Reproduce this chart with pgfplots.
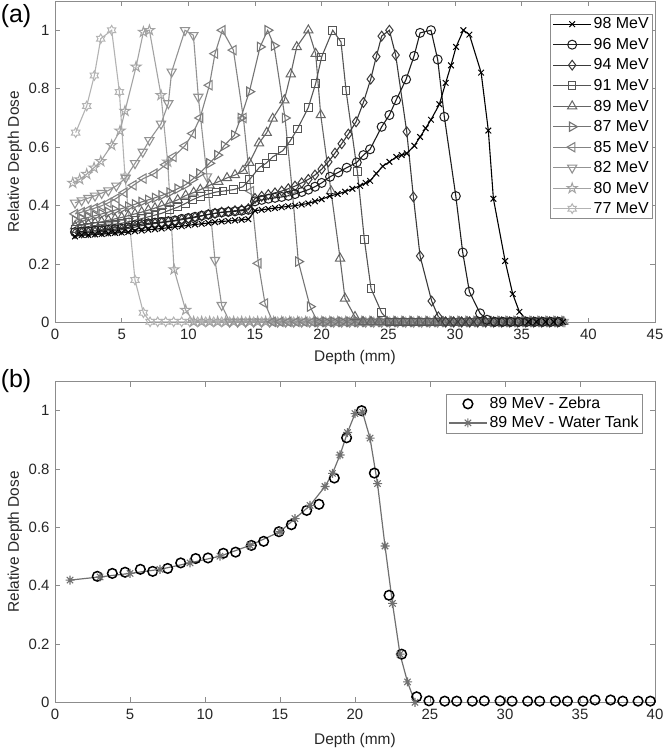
\documentclass[border=0pt]{standalone}
\usepackage{fontspec}
\setmainfont{Liberation Sans}
\usepackage{pgfplots}
\pgfplotsset{compat=1.18}
\usetikzlibrary{plotmarks}

\definecolor{c98}{HTML}{000000}
\definecolor{c96}{HTML}{1E1E1E}
\definecolor{c94}{HTML}{3A3A3A}
\definecolor{c91}{HTML}{555555}
\definecolor{c89}{HTML}{656565}
\definecolor{c87}{HTML}{747474}
\definecolor{c85}{HTML}{838383}
\definecolor{c82}{HTML}{939393}
\definecolor{c80}{HTML}{A3A3A3}
\definecolor{c77}{HTML}{B3B3B3}
\definecolor{axgray}{HTML}{8C8C8C}
\definecolor{tickcol}{HTML}{262626}
\definecolor{wt}{HTML}{707070}

\pgfdeclareplotmark{pentagram}{%
  \pgfmathsetlengthmacro\pmR{\pgfplotmarksize}%
  \pgfmathsetlengthmacro\pmr{0.382*\pgfplotmarksize}%
  \pgfpathmoveto{\pgfpointpolar{90}{\pmR}}%
  \pgfpathlineto{\pgfpointpolar{126}{\pmr}}%
  \pgfpathlineto{\pgfpointpolar{162}{\pmR}}%
  \pgfpathlineto{\pgfpointpolar{198}{\pmr}}%
  \pgfpathlineto{\pgfpointpolar{234}{\pmR}}%
  \pgfpathlineto{\pgfpointpolar{270}{\pmr}}%
  \pgfpathlineto{\pgfpointpolar{306}{\pmR}}%
  \pgfpathlineto{\pgfpointpolar{342}{\pmr}}%
  \pgfpathlineto{\pgfpointpolar{18}{\pmR}}%
  \pgfpathlineto{\pgfpointpolar{54}{\pmr}}%
  \pgfpathclose
  \pgfusepathqstroke}
\pgfdeclareplotmark{hexagram}{%
  \pgfmathsetlengthmacro\pmR{\pgfplotmarksize}%
  \pgfmathsetlengthmacro\pmr{0.577*\pgfplotmarksize}%
  \pgfpathmoveto{\pgfpointpolar{90}{\pmR}}%
  \pgfpathlineto{\pgfpointpolar{120}{\pmr}}%
  \pgfpathlineto{\pgfpointpolar{150}{\pmR}}%
  \pgfpathlineto{\pgfpointpolar{180}{\pmr}}%
  \pgfpathlineto{\pgfpointpolar{210}{\pmR}}%
  \pgfpathlineto{\pgfpointpolar{240}{\pmr}}%
  \pgfpathlineto{\pgfpointpolar{270}{\pmR}}%
  \pgfpathlineto{\pgfpointpolar{300}{\pmr}}%
  \pgfpathlineto{\pgfpointpolar{330}{\pmR}}%
  \pgfpathlineto{\pgfpointpolar{0}{\pmr}}%
  \pgfpathlineto{\pgfpointpolar{30}{\pmR}}%
  \pgfpathlineto{\pgfpointpolar{60}{\pmr}}%
  \pgfpathclose
  \pgfusepathqstroke}
\pgfdeclareplotmark{ast8}{%
  \pgfpathmoveto{\pgfqpoint{-\pgfplotmarksize}{0pt}}\pgfpathlineto{\pgfqpoint{\pgfplotmarksize}{0pt}}%
  \pgfpathmoveto{\pgfqpoint{0pt}{-\pgfplotmarksize}}\pgfpathlineto{\pgfqpoint{0pt}{\pgfplotmarksize}}%
  \pgfpathmoveto{\pgfpointpolar{45}{\pgfplotmarksize}}\pgfpathlineto{\pgfpointpolar{225}{\pgfplotmarksize}}%
  \pgfpathmoveto{\pgfpointpolar{135}{\pgfplotmarksize}}\pgfpathlineto{\pgfpointpolar{315}{\pgfplotmarksize}}%
  \pgfusepathqstroke}

\pgfplotsset{
  myaxis/.style={
    scale only axis, width=600bp, clip=false,
    ymin=0, ymax=1.1,
    ytick={0,0.2,0.4,0.6,0.8,1}, yticklabels={0,0.2,0.4,0.6,0.8,1},
    axis line style={axgray, line width=0.7bp},
    tick style={axgray, line width=0.7bp},
    major tick length=5bp, tick align=inside,
    tick label style={font=\fontsize{15}{17}\selectfont, text=tickcol},
    /pgf/number format/assume math mode=true,
    label style={font=\fontsize{15.5}{18}\selectfont, text=tickcol},
    xticklabel style={yshift=-3bp},
    yticklabel style={xshift=-2bp},
    xlabel={Depth (mm)}, ylabel={Relative Depth Dose},
    legend image code/.code={\draw[mark repeat=2,mark phase=2] plot coordinates {(0bp,0bp)(19bp,0bp)(38bp,0bp)};},
    legend style={draw=axgray, line width=0.7bp, font=\fontsize{16}{18}\selectfont, text=black, cells={anchor=west}, inner xsep=2bp, inner ysep=1.5bp, row sep=3.9bp},
  }
}

\begin{document}
\begin{tikzpicture}
\path[use as bounding box] (0,0) rectangle (664bp,-750bp);
\node[anchor=center, font=\fontsize{25}{28}\selectfont] at (16bp,-16bp) {(a)};
\node[anchor=center, font=\fontsize{25}{28}\selectfont] at (16bp,-381bp) {(b)};

\begin{axis}[myaxis, at={(55bp,-322.7bp)}, anchor=south west, height=321.7bp,
  xmin=0, xmax=45, xtick={0,5,...,45},
  xlabel style={at={(axis description cs:0.5,-0.108)}, anchor=center},
  ylabel style={at={(axis description cs:-0.0667,0.5)}, anchor=center},
  reverse legend,
  legend style={at={(axis description cs:1,1)}, anchor=north east, xshift=-2bp, yshift=-13bp},
  every axis plot/.append style={line width=1.1bp, mark options={solid, line width=1bp}},
]
% 77 MeV
\addplot[c77, mark=hexagram, mark size=4.8bp] coordinates {
(1.55,0.65)(2.38,0.741)(2.95,0.845)(3.43,0.971)(4.25,1.0)(4.83,0.789)(5.25,0.50)(6.0,0.146)(6.63,0.034)(7.13,0.003)
(7.7,0.003)(8.3,0.003)(8.9,0.003)(9.5,0.003)(10.1,0.003)(10.7,0.003)(11.3,0.003)(11.9,0.003)(12.5,0.003)(13.1,0.003)
(13.7,0.003)(14.3,0.003)(14.9,0.003)(15.5,0.003)(16.1,0.003)(16.7,0.003)(17.3,0.003)(17.9,0.003)(18.5,0.003)(19.1,0.003)
(19.7,0.003)(20.3,0.003)(20.9,0.003)(21.5,0.003)(22.1,0.003)(22.7,0.003)(23.3,0.003)(23.9,0.003)(24.5,0.003)(25.1,0.003)
(25.7,0.003)(26.3,0.003)(26.9,0.003)(27.5,0.003)(28.1,0.003)(28.7,0.003)(29.3,0.003)(29.9,0.003)(30.5,0.003)(31.1,0.003)
(31.7,0.003)(32.3,0.003)(32.9,0.003)(33.5,0.003)(34.1,0.003)(34.7,0.003)(35.3,0.003)(35.9,0.003)(36.5,0.003)(37.1,0.003)
(37.7,0.003)(38.2,0.003)};
\addlegendentry{77 MeV\hspace{14bp}}
% 80 MeV
\addplot[c80, mark=pentagram, mark size=5.3bp] coordinates {
(1.33,0.478)(1.85,0.49)(2.38,0.508)(2.93,0.53)(3.43,0.552)(4.25,0.607)(4.88,0.656)(5.25,0.724)(6.08,0.875)(6.63,0.994)
(7.08,1.0)(7.95,0.778)(8.45,0.55)(8.93,0.182)(9.8,0.043)(10.4,0.003)
(11.0,0.003)(11.6,0.003)(12.2,0.003)(12.8,0.003)(13.4,0.003)(14.0,0.003)(14.6,0.003)(15.2,0.003)(15.8,0.003)(16.4,0.003)
(17.0,0.003)(17.6,0.003)(18.2,0.003)(18.8,0.003)(19.4,0.003)(20.0,0.003)(20.6,0.003)(21.2,0.003)(21.8,0.003)(22.4,0.003)
(23.0,0.003)(23.6,0.003)(24.2,0.003)(24.8,0.003)(25.4,0.003)(26.0,0.003)(26.6,0.003)(27.2,0.003)(27.8,0.003)(28.4,0.003)
(29.0,0.003)(29.6,0.003)(30.2,0.003)(30.8,0.003)(31.4,0.003)(32.0,0.003)(32.6,0.003)(33.2,0.003)(33.8,0.003)(34.4,0.003)
(35.0,0.003)(35.6,0.003)(36.2,0.003)(36.8,0.003)(37.4,0.003)(38.0,0.003)};
\addlegendentry{80 MeV\hspace{14bp}}
% 82 MeV
\addplot[c82, mark=triangle, mark size=5.3bp, mark options={rotate=180}] coordinates {
(1.5,0.41)(2.0,0.418)(2.5,0.426)(3.0,0.434)(3.5,0.443)(4.0,0.452)(4.6,0.468)(5.3,0.495)(6.0,0.545)(6.58,0.584)
(7.08,0.624)(7.95,0.68)(8.5,0.75)(8.75,0.858)(9.75,1.0)(10.38,0.983)(10.75,0.772)(11.4,0.5)(12.0,0.214)(12.5,0.06)(13.1,0.003)
(13.7,0.003)(14.3,0.003)(14.9,0.003)(15.5,0.003)(16.1,0.003)(16.7,0.003)(17.3,0.003)(17.9,0.003)(18.5,0.003)(19.1,0.003)
(19.7,0.003)(20.3,0.003)(20.9,0.003)(21.5,0.003)(22.1,0.003)(22.7,0.003)(23.3,0.003)(23.9,0.003)(24.5,0.003)(25.1,0.003)
(25.7,0.003)(26.3,0.003)(26.9,0.003)(27.5,0.003)(28.1,0.003)(28.7,0.003)(29.3,0.003)(29.9,0.003)(30.5,0.003)(31.1,0.003)
(31.7,0.003)(32.3,0.003)(32.9,0.003)(33.5,0.003)(34.1,0.003)(34.7,0.003)(35.3,0.003)(35.9,0.003)(36.5,0.003)(37.1,0.003)
(37.7,0.003)};
\addlegendentry{82 MeV\hspace{14bp}}
% 85 MeV
\addplot[c85, mark=triangle, mark size=5.3bp, mark options={rotate=90}] coordinates {
(1.5,0.372)(2.0,0.378)(2.5,0.385)(3.0,0.392)(3.5,0.40)(4.0,0.41)(4.6,0.425)(5.2,0.445)(5.88,0.47)(6.63,0.493)
(7.45,0.51)(8.3,0.54)(8.88,0.567)(9.75,0.605)(10.33,0.647)(10.88,0.70)(11.58,0.812)(12.0,0.92)(12.55,1.0)(13.38,0.932)
(14.13,0.70)(14.7,0.45)(15.25,0.203)(15.75,0.066)(16.33,0.003)
(16.9,0.003)(17.5,0.003)(18.1,0.003)(18.7,0.003)(19.3,0.003)(19.9,0.003)(20.5,0.003)(21.1,0.003)(21.7,0.003)(22.3,0.003)
(22.9,0.003)(23.5,0.003)(24.1,0.003)(24.7,0.003)(25.3,0.003)(25.9,0.003)(26.5,0.003)(27.1,0.003)(27.7,0.003)(28.3,0.003)
(28.9,0.003)(29.5,0.003)(30.1,0.003)(30.7,0.003)(31.3,0.003)(31.9,0.003)(32.5,0.003)(33.1,0.003)(33.7,0.003)(34.3,0.003)
(34.9,0.003)(35.5,0.003)(36.1,0.003)(36.7,0.003)(37.3,0.003)(37.9,0.003)};
\addlegendentry{85 MeV\hspace{14bp}}
% 87 MeV
\addplot[c87, mark=triangle, mark size=5.3bp, mark options={rotate=-90}] coordinates {
(1.5,0.35)(2.0,0.355)(2.5,0.36)(3.0,0.366)(3.5,0.372)(4.0,0.378)(4.5,0.385)(5.0,0.39)(5.5,0.397)(6.0,0.405)
(6.5,0.413)(7.0,0.42)(7.5,0.427)(8.0,0.435)(8.6,0.445)(9.2,0.458)(9.8,0.472)(10.3,0.49)(10.83,0.51)(11.58,0.545)
(12.18,0.573)(12.68,0.605)(13.45,0.641)(13.93,0.70)(14.58,0.79)(15.38,0.943)(15.95,1.0)(16.43,0.947)(17.25,0.70)(17.8,0.45)
(18.25,0.209)(19.13,0.055)(19.7,0.003)
(20.3,0.003)(20.9,0.003)(21.5,0.003)(22.1,0.003)(22.7,0.003)(23.3,0.003)(23.9,0.003)(24.5,0.003)(25.1,0.003)(25.7,0.003)
(26.3,0.003)(26.9,0.003)(27.5,0.003)(28.1,0.003)(28.7,0.003)(29.3,0.003)(29.9,0.003)(30.5,0.003)(31.1,0.003)(31.7,0.003)
(32.3,0.003)(32.9,0.003)(33.5,0.003)(34.1,0.003)(34.7,0.003)(35.3,0.003)(35.9,0.003)(36.5,0.003)(37.1,0.003)(37.7,0.003)};
\addlegendentry{87 MeV\hspace{14bp}}
% 89 MeV
\addplot[c89, mark=triangle, mark size=5.3bp] coordinates {
(1.5,0.33)(2.0,0.333)(2.5,0.337)(3.0,0.341)(3.5,0.345)(4.0,0.35)(4.5,0.355)(5.0,0.36)(5.5,0.366)(6.0,0.372)
(6.5,0.378)(7.0,0.385)(7.5,0.392)(8.0,0.40)(8.6,0.41)(9.2,0.42)(9.8,0.435)(10.4,0.445)(10.9,0.455)(11.6,0.47)
(12.25,0.482)(12.9,0.495)(13.5,0.505)(14.1,0.52)(14.58,0.547)(15.3,0.614)(15.88,0.65)(16.33,0.698)(17.2,0.761)(17.68,0.85)
(18.13,0.943)(19.0,1.0)(19.55,0.92)(19.93,0.71)(20.7,0.45)(21.38,0.22)(21.75,0.083)(22.5,0.02)(23.1,0.003)
(23.7,0.003)(24.3,0.003)(24.9,0.003)(25.5,0.003)(26.1,0.003)(26.7,0.003)(27.3,0.003)(27.9,0.003)(28.5,0.003)(29.1,0.003)
(29.7,0.003)(30.3,0.003)(30.9,0.003)(31.5,0.003)(32.1,0.003)(32.7,0.003)(33.3,0.003)(33.9,0.003)(34.5,0.003)(35.1,0.003)
(35.7,0.003)(36.3,0.003)(36.9,0.003)(37.5,0.003)(38.1,0.003)};
\addlegendentry{89 MeV\hspace{14bp}}
% 91 MeV
\addplot[c91, mark=square, mark size=3.8bp] coordinates {
(1.5,0.32)(2.0,0.322)(2.5,0.325)(3.0,0.328)(3.5,0.331)(4.0,0.334)(4.5,0.337)(5.0,0.34)(5.5,0.345)(6.0,0.35)
(6.5,0.356)(7.0,0.362)(7.5,0.368)(8.0,0.374)(8.6,0.385)(9.2,0.395)(9.8,0.408)(10.3,0.42)(10.9,0.432)(11.5,0.44)
(12.1,0.447)(12.6,0.45)(13.4,0.455)(14.1,0.465)(14.6,0.49)(15.33,0.531)(15.83,0.545)(16.33,0.567)(17.08,0.588)(17.63,0.621)
(18.18,0.662)(19.0,0.736)(19.55,0.818)(20.0,0.909)(20.83,1.0)(21.45,0.96)(21.83,0.793)(22.68,0.516)(23.2,0.285)(23.7,0.117)
(24.5,0.034)(25.1,0.003)
(25.7,0.003)(26.3,0.003)(26.9,0.003)(27.5,0.003)(28.1,0.003)(28.7,0.003)(29.3,0.003)(29.9,0.003)(30.5,0.003)(31.1,0.003)
(31.7,0.003)(32.3,0.003)(32.9,0.003)(33.5,0.003)(34.1,0.003)(34.7,0.003)(35.3,0.003)(35.9,0.003)(36.5,0.003)(37.1,0.003)
(37.7,0.003)};
\addlegendentry{91 MeV\hspace{14bp}}
% 94 MeV
\addplot[c94, mark=diamond, mark size=4.9bp] coordinates {
(1.5,0.305)(2.0,0.307)(2.5,0.308)(3.0,0.31)(3.5,0.312)(4.0,0.314)(4.5,0.316)(5.0,0.318)(5.5,0.322)(6.0,0.327)
(6.5,0.332)(7.0,0.336)(7.5,0.339)(8.0,0.342)(8.5,0.345)(9.0,0.348)(9.5,0.352)(10.0,0.356)(10.5,0.36)(11.0,0.365)
(11.5,0.37)(12.0,0.374)(12.5,0.378)(13.0,0.38)(13.5,0.383)(14.0,0.386)(14.5,0.39)(15.0,0.425)(15.5,0.432)(16.0,0.438)
(16.5,0.444)(17.0,0.45)(17.5,0.458)(18.0,0.467)(18.5,0.478)(19.0,0.49)(19.5,0.505)(20.0,0.525)(20.5,0.55)(21.0,0.58)
(21.5,0.612)(22.0,0.645)(22.58,0.687)(23.13,0.753)(23.68,0.833)(24.1,0.91)(24.5,0.98)(25.08,1.0)(25.55,0.915)(26.38,0.653)
(26.88,0.43)(27.38,0.228)(28.25,0.074)(28.75,0.02)(29.3,0.003)
(29.9,0.003)(30.5,0.003)(31.1,0.003)(31.7,0.003)(32.3,0.003)(32.9,0.003)(33.5,0.003)(34.1,0.003)(34.7,0.003)(35.3,0.003)
(35.9,0.003)(36.5,0.003)(37.1,0.003)(37.7,0.003)};
\addlegendentry{94 MeV\hspace{14bp}}
% 96 MeV
\addplot[c96, mark=o, mark size=4.5bp] coordinates {
(1.5,0.31)(2.0,0.312)(2.5,0.313)(3.0,0.315)(3.5,0.316)(4.0,0.318)(4.5,0.32)(5.0,0.322)(5.5,0.326)(6.0,0.333)
(6.5,0.337)(7.0,0.34)(7.5,0.342)(8.0,0.344)(8.5,0.347)(9.0,0.35)(9.5,0.355)(10.0,0.358)(10.5,0.362)(11.0,0.366)
(11.5,0.37)(12.0,0.374)(12.5,0.377)(13.0,0.379)(13.5,0.381)(14.0,0.383)(14.5,0.386)(15.0,0.415)(15.5,0.42)(16.0,0.424)
(16.5,0.427)(17.0,0.43)(17.5,0.434)(18.0,0.44)(18.5,0.447)(19.0,0.455)(19.5,0.465)(20.0,0.478)(20.63,0.499)(21.25,0.514)
(21.88,0.53)(22.63,0.548)(23.13,0.573)(23.63,0.593)(24.5,0.67)(25.08,0.71)(25.58,0.761)(26.33,0.832)(26.93,0.912)(27.38,0.991)
(28.2,1.0)(28.7,0.9)(29.2,0.704)(30.06,0.433)(30.58,0.24)(31.08,0.106)(31.88,0.032)(32.4,0.01)(33.0,0.003)
(33.6,0.003)(34.2,0.003)(34.8,0.003)(35.4,0.003)(36.0,0.003)(36.6,0.003)(37.2,0.003)(37.8,0.003)};
\addlegendentry{96 MeV\hspace{14bp}}
% 98 MeV
\addplot[c98, mark=x, mark size=4bp] coordinates {
(1.5,0.295)(2.0,0.30)(2.5,0.30)(3.0,0.302)(3.5,0.303)(4.0,0.305)(4.5,0.307)(5.0,0.308)(5.5,0.31)(6.0,0.313)
(6.5,0.315)(7.0,0.318)(7.5,0.32)(8.0,0.322)(8.5,0.325)(9.0,0.328)(9.5,0.33)(10.0,0.333)(10.5,0.336)(11.0,0.338)
(11.5,0.341)(12.0,0.344)(12.5,0.346)(13.0,0.348)(13.5,0.35)(14.0,0.352)(14.5,0.354)(15.0,0.383)(15.5,0.386)(16.0,0.389)
(16.5,0.392)(17.0,0.395)(17.5,0.398)(18.0,0.40)(18.5,0.404)(19.0,0.408)(19.5,0.415)(20.0,0.422)(20.6,0.433)(21.2,0.44)
(21.75,0.448)(22.3,0.458)(22.88,0.468)(23.3,0.478)(23.63,0.485)(24.1,0.51)(24.58,0.535)(25.08,0.55)(25.6,0.567)(26.0,0.573)
(26.38,0.579)(26.95,0.605)(27.38,0.635)(27.8,0.665)(28.2,0.694)(28.83,0.747)(29.3,0.82)(29.7,0.88)(30.08,0.943)(30.63,1.0)
(31.08,0.985)(31.96,0.855)(32.5,0.657)(32.88,0.424)(33.76,0.211)(34.33,0.098)(34.83,0.037)(35.5,0.003)(36.1,0.003)(36.8,0.003)
(37.4,0.003)(38.1,0.003)};
\addlegendentry{98 MeV\hspace{14bp}}
\end{axis}

\begin{axis}[myaxis, at={(55bp,-702.3bp)}, anchor=south west, height=320.8bp,
  xmin=0, xmax=40, xtick={0,5,...,40},
  xlabel style={at={(axis description cs:0.5,-0.1185)}, anchor=center},
  ylabel style={at={(axis description cs:-0.0667,0.5)}, anchor=center},
  legend style={at={(axis description cs:1,1)}, anchor=north east, xshift=-12bp, yshift=-12bp, row sep=2bp},
]
\addplot[black, only marks, mark=o, mark size=4.8bp, mark options={line width=1.5bp},
  legend image code/.code={\draw[mark options={line width=1.5bp}] plot coordinates {(19bp,0bp)};}] coordinates {
(2.82,0.432)(3.82,0.442)(4.67,0.446)(5.69,0.456)(6.51,0.449)(7.51,0.459)(8.38,0.478)(9.38,0.493)(10.2,0.495)(11.22,0.511)
(12.04,0.515)(13.09,0.538)(13.91,0.552)(14.93,0.585)(15.76,0.609)(16.78,0.658)(17.6,0.679)(18.62,0.769)(19.44,0.907)(20.44,1.0)
(21.29,0.786)(22.27,0.367)(23.11,0.165)(24.11,0.019)(24.93,0.005)(25.98,0.004)(26.78,0.004)(27.82,0.004)(28.62,0.005)(29.67,0.005)
(30.47,0.004)(31.51,0.004)(32.31,0.004)(33.36,0.004)(34.16,0.004)(35.2,0.004)(36.0,0.008)(37.04,0.008)(37.85,0.004)(38.87,0.004)
(39.69,0.004)};
\addlegendentry{89 MeV - Zebra}
\addplot[wt, line width=1.2bp, mark=ast8, mark size=4.5bp, mark options={line width=1.1bp}] coordinates {
(1.0,0.419)(3.0,0.43)(5.0,0.442)(7.0,0.456)(9.0,0.478)(11.0,0.501)(13.0,0.538)(15.0,0.585)(16.0,0.63)(17.0,0.675)
(18.0,0.74)(18.5,0.785)(19.0,0.848)(19.5,0.925)(20.0,0.99)(20.5,0.995)(21.0,0.906)(21.5,0.75)(22.0,0.536)(22.5,0.339)
(23.0,0.165)(23.5,0.07)(24.0,0.0)};
\addlegendentry{89 MeV - Water Tank}
\end{axis}
\end{tikzpicture}
\end{document}
